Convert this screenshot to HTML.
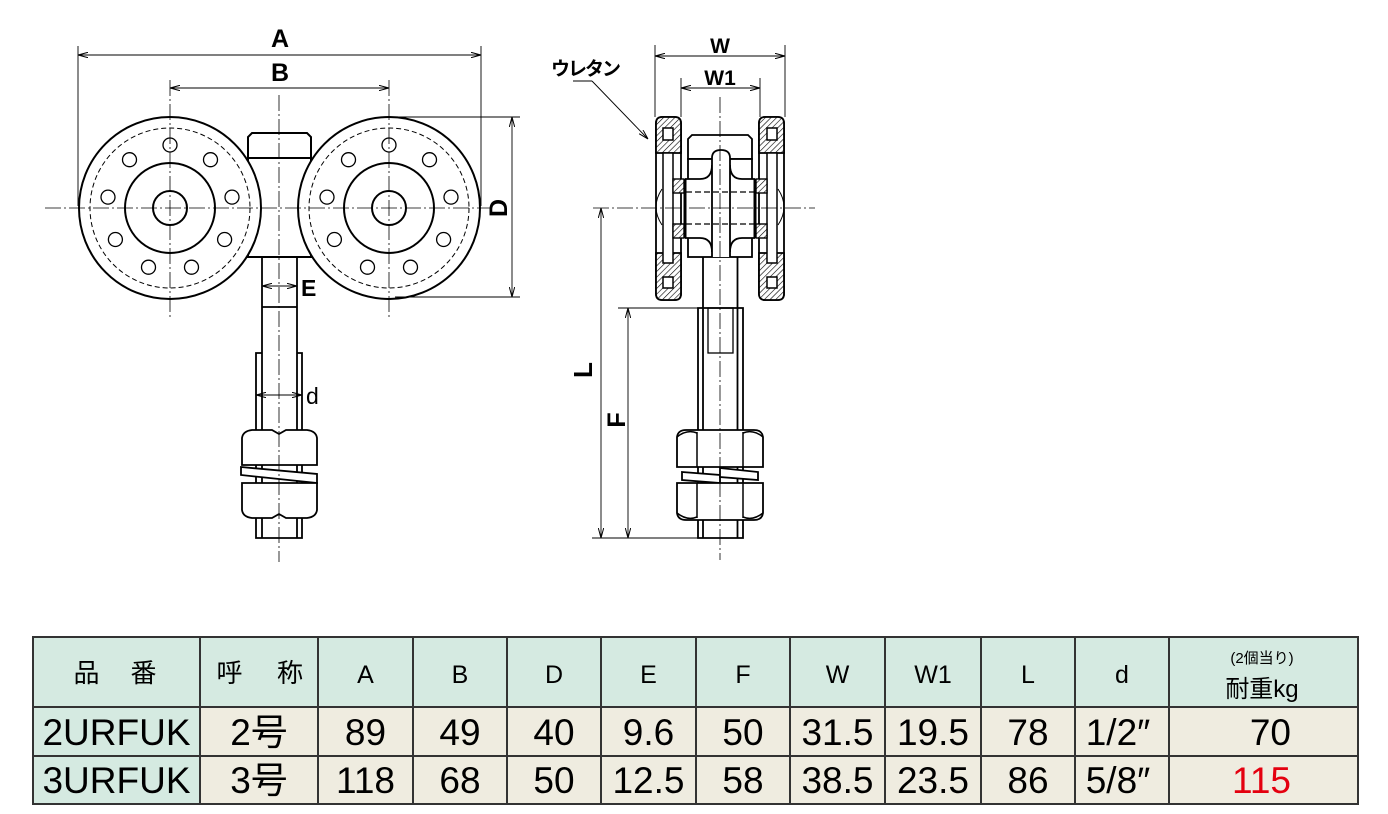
<!DOCTYPE html>
<html><head><meta charset="utf-8"><style>
html,body{margin:0;padding:0;background:#fff;}
svg{display:block;}
</style></head><body>
<svg width="1388" height="814" viewBox="0 0 1388 814" xmlns="http://www.w3.org/2000/svg">
<defs>
<marker id="ar" viewBox="0 0 10 6" refX="10" refY="3" markerWidth="10" markerHeight="6" markerUnits="userSpaceOnUse" orient="auto-start-reverse"><path d="M0,0.3 L10,3 L0,5.7" fill="none" stroke="#000" stroke-width="1"/></marker>
<pattern id="h" width="4" height="4" patternUnits="userSpaceOnUse" patternTransform="rotate(45)"><rect width="4" height="4" fill="#fff"/><line x1="0" y1="0" x2="0" y2="4" stroke="#000" stroke-width="1.2"/></pattern>
<g id="wheel">
<circle r="91" fill="#fff" stroke="#000" stroke-width="2"/>
<circle r="80" fill="none" stroke="#000" stroke-width="1" stroke-dasharray="5 3"/>
<circle r="45" fill="none" stroke="#000" stroke-width="2"/>
<circle r="17" fill="none" stroke="#000" stroke-width="2"/>
<g fill="none" stroke="#000" stroke-width="1.3">
<circle cx="0" cy="-63" r="7"/><circle cx="40.5" cy="-48.3" r="7"/><circle cx="62" cy="-10.9" r="7"/>
<circle cx="54.6" cy="31.5" r="7"/><circle cx="21.5" cy="59.2" r="7"/><circle cx="-21.5" cy="59.2" r="7"/>
<circle cx="-54.6" cy="31.5" r="7"/><circle cx="-62" cy="-10.9" r="7"/><circle cx="-40.5" cy="-48.3" r="7"/>
</g>
</g>
</defs>

<!-- ================= LEFT VIEW ================= -->
<g fill="#fff" stroke="#000" stroke-width="2">
<rect x="248" y="158" width="63" height="99"/>
<path d="M248,158 L248,137 L252,133 L307,133 L311,137 L311,158 Z"/>
</g>
<use href="#wheel" x="170" y="208"/>
<use href="#wheel" x="389" y="208"/>

<!-- stem -->
<g fill="none" stroke="#000" stroke-width="1.8">
<line x1="262" y1="257" x2="262" y2="538"/>
<line x1="297" y1="257" x2="297" y2="538"/>
<line x1="262" y1="307" x2="297" y2="307"/>
<path d="M262,353 L256,353 L256,538 L302,538 L302,353 L297,353"/>
</g>
<!-- nuts & washer -->
<g fill="#fff" stroke="#000" stroke-width="1.8">
<path d="M242,465 L242,438 Q243,431 252,430 L272,430 L279,434 L286,430 L307,430 Q316,431 317,438 L317,465 Z"/>
<polygon points="241,467 317,474 317,483 241,475"/>
<path d="M242,483 L242,510 Q243,517 252,518 L272,518 L279,514 L286,518 L307,518 Q316,517 317,510 L317,483 Z"/>
</g>

<!-- left centerlines -->
<g stroke="#000" stroke-width="0.8" stroke-dasharray="16 3 2 3" fill="none">
<line x1="45" y1="208" x2="492" y2="208"/>
<line x1="170" y1="80" x2="170" y2="320"/>
<line x1="389" y1="80" x2="389" y2="320"/>
<line x1="279" y1="95" x2="279" y2="562"/>
</g>

<!-- left dimensions -->
<g stroke="#000" stroke-width="0.9" fill="none">
<line x1="78" y1="46" x2="78" y2="206"/>
<line x1="481" y1="46" x2="481" y2="206"/>
<line x1="78" y1="55" x2="481" y2="55" marker-start="url(#ar)" marker-end="url(#ar)"/>
<line x1="170" y1="88" x2="389" y2="88" marker-start="url(#ar)" marker-end="url(#ar)"/>
<line x1="392" y1="117" x2="520" y2="117"/>
<line x1="395" y1="297" x2="520" y2="297"/>
<line x1="512" y1="117" x2="512" y2="297" marker-start="url(#ar)" marker-end="url(#ar)"/>
<line x1="262" y1="286" x2="297" y2="286" marker-start="url(#ar)" marker-end="url(#ar)"/>
<line x1="256" y1="395" x2="302" y2="395" marker-start="url(#ar)" marker-end="url(#ar)"/>
</g>
<g font-family="'Liberation Sans', sans-serif" font-weight="bold" fill="#000">
<text x="280" y="47" font-size="25" text-anchor="middle">A</text>
<text x="280" y="81" font-size="25" text-anchor="middle">B</text>
<text transform="translate(507,208) rotate(-90)" font-size="25" text-anchor="middle">D</text>
<text x="301" y="296" font-size="23">E</text>
<text x="306" y="404" font-size="23" font-weight="normal">d</text>
</g>

<!-- ================= RIGHT VIEW ================= -->
<!-- threaded shaft -->
<g fill="none" stroke="#000" stroke-width="1.8">
<line x1="703" y1="257" x2="703" y2="538"/>
<line x1="737.5" y1="257" x2="737.5" y2="538"/>
<path d="M698,538 L698,308 L743,308 L743,538 Z"/>
</g>
<rect x="708" y="308" width="25" height="45" fill="none" stroke="#000" stroke-width="1.3"/>
<g fill="#fff" stroke="#000" stroke-width="1.8">
<path d="M677,467 L677,437 Q678,430 686,430 L754,430 Q762,430 763,437 L763,467 Z"/>
<polygon points="682,472 720,475 720,483 682,480"/>
<polygon points="720,468 758,472 758,480 720,477"/>
<path d="M677,483 L677,513 Q678,520 686,520 L754,520 Q762,520 763,513 L763,483 Z"/>
</g>
<g fill="none" stroke="#000" stroke-width="1.5">
<line x1="697" y1="432" x2="697" y2="467"/><line x1="743" y1="432" x2="743" y2="467"/>
<line x1="697" y1="483" x2="697" y2="518"/><line x1="743" y1="483" x2="743" y2="518"/>
<path d="M677,437 Q687,429 697,433 M743,433 Q753,429 763,437"/>
<path d="M677,513 Q687,521 697,517 M743,517 Q753,521 763,513"/>
</g>

<!-- body -->
<g fill="#fff" stroke="#000" stroke-width="1.8">
<path d="M688,159 L688,139 L692,135 L748,135 L752,139 L752,159 Z"/>
<rect x="688" y="159" width="64" height="98"/>
</g>
<rect x="685" y="179" width="70" height="59" fill="#fff" stroke="none"/>
<g fill="none" stroke="#000" stroke-width="1.8">
<path d="M685,179 L700,179 Q712,179 712,165"/>
<path d="M755,179 L742,179 Q730,179 730,165"/>
<path d="M685,238 L700,238 Q712,238 712,252"/>
<path d="M755,238 L742,238 Q730,238 730,252"/>
<path d="M712,257 L712,158 Q712,150 721,150 Q730,150 730,158 L730,257" fill="#fff"/>
</g>
<g stroke="#000" stroke-width="1.2" stroke-dasharray="6 3">
<line x1="686" y1="192" x2="754" y2="192"/>
<line x1="686" y1="224" x2="754" y2="224"/>
</g>

<!-- left wheel (side) -->
<g stroke="#000" stroke-width="1.8">
<rect x="656" y="117" width="25" height="183" rx="6" fill="#fff"/>
<path d="M656,153 L656,123 Q656,117 662,117 L675,117 Q681,117 681,123 L681,153 Z" fill="url(#h)"/>
<path d="M656,253 L656,294 Q656,300 662,300 L675,300 Q681,300 681,294 L681,253 Z" fill="url(#h)"/>
<rect x="663" y="128" width="10" height="12" fill="#fff" stroke-width="1.5"/>
<rect x="663" y="277" width="10" height="11" fill="#fff" stroke-width="1.5"/>
<rect x="663" y="153" width="10" height="110" fill="#fff" stroke-width="1.5"/>
<rect x="673" y="179" width="11" height="14" fill="url(#h)" stroke-width="1.4"/>
<rect x="673" y="224" width="11" height="14" fill="url(#h)" stroke-width="1.4"/>
<line x1="685" y1="179" x2="685" y2="238" stroke-width="3"/>
<path d="M662,189 Q650,207 662,225" fill="none" stroke-width="1"/>
</g>
<!-- right wheel (side) -->
<g stroke="#000" stroke-width="1.8">
<rect x="759" y="117" width="25" height="183" rx="6" fill="#fff"/>
<path d="M759,153 L759,123 Q759,117 765,117 L778,117 Q784,117 784,123 L784,153 Z" fill="url(#h)"/>
<path d="M759,253 L759,294 Q759,300 765,300 L778,300 Q784,300 784,294 L784,253 Z" fill="url(#h)"/>
<rect x="767" y="128" width="10" height="12" fill="#fff" stroke-width="1.5"/>
<rect x="767" y="277" width="10" height="11" fill="#fff" stroke-width="1.5"/>
<rect x="767" y="153" width="10" height="110" fill="#fff" stroke-width="1.5"/>
<rect x="756" y="179" width="11" height="14" fill="url(#h)" stroke-width="1.4"/>
<rect x="756" y="224" width="11" height="14" fill="url(#h)" stroke-width="1.4"/>
<line x1="755" y1="179" x2="755" y2="238" stroke-width="3"/>
<path d="M778,189 Q790,207 778,225" fill="none" stroke-width="1"/>
</g>

<!-- right centerlines -->
<g stroke="#000" stroke-width="0.8" stroke-dasharray="16 3 2 3" fill="none">
<line x1="593" y1="208" x2="815" y2="208"/>
<line x1="720" y1="97" x2="720" y2="560"/>
</g>

<!-- right dimensions -->
<g stroke="#000" stroke-width="0.9" fill="none">
<line x1="655" y1="45" x2="655" y2="117"/>
<line x1="785" y1="45" x2="785" y2="117"/>
<line x1="655" y1="56" x2="785" y2="56" marker-start="url(#ar)" marker-end="url(#ar)"/>
<line x1="681" y1="78" x2="681" y2="117"/>
<line x1="760" y1="78" x2="760" y2="117"/>
<line x1="681" y1="88" x2="760" y2="88" marker-start="url(#ar)" marker-end="url(#ar)"/>
<line x1="573" y1="81" x2="592" y2="81"/>
<line x1="592" y1="81" x2="648" y2="139" marker-end="url(#ar)"/>
<line x1="601" y1="208" x2="601" y2="538" marker-start="url(#ar)" marker-end="url(#ar)"/>
<line x1="628" y1="308" x2="628" y2="538" marker-start="url(#ar)" marker-end="url(#ar)"/>
<line x1="618" y1="308" x2="698" y2="308"/>
<line x1="592" y1="538" x2="698" y2="538"/>
</g>
<g font-family="'Liberation Sans', sans-serif" font-weight="bold" fill="#000">
<text x="720" y="53" font-size="21" text-anchor="middle">W</text>
<text x="720" y="85" font-size="21" text-anchor="middle">W1</text>
<text x="551" y="75" font-size="19" font-family="'Liberation Sans', 'Noto Sans CJK JP', sans-serif" letter-spacing="-2">ウレタン</text>
<text transform="translate(592,370) rotate(-90)" font-size="26" text-anchor="middle">L</text>
<text transform="translate(625,420) rotate(-90)" font-size="25" text-anchor="middle">F</text>
</g>

<!-- ================= TABLE ================= -->
<g stroke="none">
<rect x="33" y="637" width="1325" height="70" fill="#d5eae1"/>
<rect x="33" y="707" width="167" height="97" fill="#d5eae1"/>
<rect x="200" y="707" width="1158" height="97" fill="#efece0"/>
</g>
<g stroke="#333" stroke-width="2" fill="none">
<rect x="33" y="637" width="1325" height="167"/>
<line x1="33" y1="707" x2="1358" y2="707"/>
<line x1="33" y1="756" x2="1358" y2="756"/>
<line x1="200" y1="637" x2="200" y2="804"/>
<line x1="318" y1="637" x2="318" y2="804"/>
<line x1="413" y1="637" x2="413" y2="804"/>
<line x1="507" y1="637" x2="507" y2="804"/>
<line x1="601" y1="637" x2="601" y2="804"/>
<line x1="696" y1="637" x2="696" y2="804"/>
<line x1="790" y1="637" x2="790" y2="804"/>
<line x1="885" y1="637" x2="885" y2="804"/>
<line x1="981" y1="637" x2="981" y2="804"/>
<line x1="1075" y1="637" x2="1075" y2="804"/>
<line x1="1169" y1="637" x2="1169" y2="804"/>
</g>
<g font-family="'Liberation Sans', 'Noto Sans CJK JP', sans-serif" fill="#000" text-anchor="middle">
<text x="86.5" y="682" font-size="26">品</text>
<text x="143.5" y="682" font-size="26">番</text>
<text x="229.5" y="682" font-size="26">呼</text>
<text x="290" y="682" font-size="26">称</text>
<g font-size="25">
<text x="365.5" y="683">A</text>
<text x="460" y="683">B</text>
<text x="554" y="683">D</text>
<text x="648.5" y="683">E</text>
<text x="743" y="683">F</text>
<text x="837.5" y="683">W</text>
<text x="933" y="683">W1</text>
<text x="1028" y="683">L</text>
<text x="1122" y="683">d</text>
</g>
<text x="1262" y="663" font-size="15">(2個当り)</text>
<text x="1262" y="697" font-size="24">耐重kg</text>
<g font-size="37">
<text x="116.5" y="745">2URFUK</text>
<text x="259" y="745">2号</text>
<text x="365.5" y="745">89</text>
<text x="460" y="745">49</text>
<text x="554" y="745">40</text>
<text x="648.5" y="745">9.6</text>
<text x="743" y="745">50</text>
<text x="837.5" y="745">31.5</text>
<text x="933" y="745">19.5</text>
<text x="1028" y="745">78</text>
<text x="1118" y="745">1/2″</text>
<text x="1291" y="745" text-anchor="end">70</text>
<text x="116.5" y="793">3URFUK</text>
<text x="259" y="793">3号</text>
<text x="365.5" y="793">118</text>
<text x="460" y="793">68</text>
<text x="554" y="793">50</text>
<text x="648.5" y="793">12.5</text>
<text x="743" y="793">58</text>
<text x="837.5" y="793">38.5</text>
<text x="933" y="793">23.5</text>
<text x="1028" y="793">86</text>
<text x="1118" y="793">5/8″</text>
<text x="1291" y="793" text-anchor="end" fill="#e4000f">115</text>
</g>
</g>
</svg>
</body></html>
